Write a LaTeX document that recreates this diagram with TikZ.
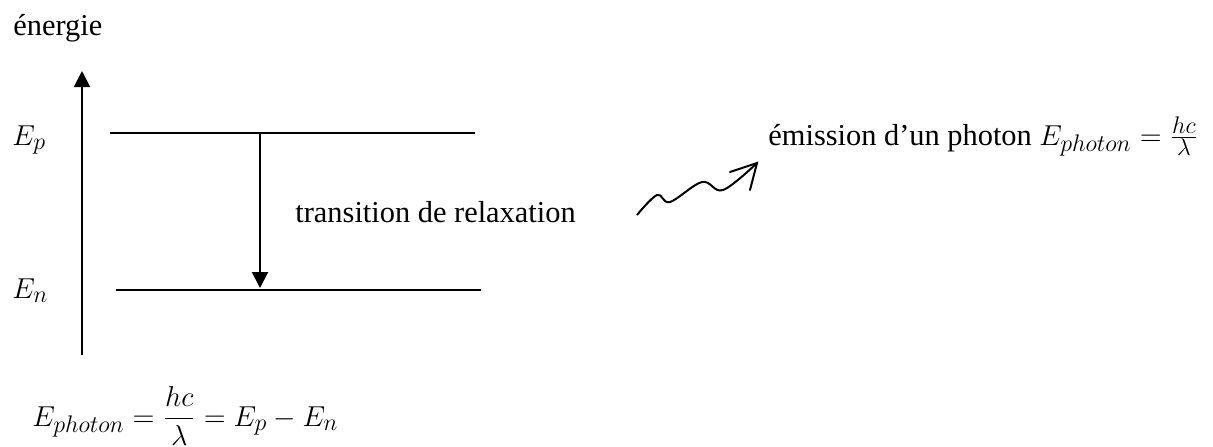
\documentclass[tikz,border=0pt]{standalone}
\usepackage{fontspec}
\setmainfont{Liberation Serif}
\usetikzlibrary{arrows.meta}
% slightly larger sub/superscripts for the formulas
\DeclareMathSizes{15.2}{15.2}{11.8}{9}

\begin{document}
\begin{tikzpicture}[x=0.5pt,y=-0.5pt,
  txt/.style={inner sep=0pt,anchor=base west,font=\fontsize{15.2}{18}\selectfont},
  level/.style={line width=1pt},
  axisarrow/.style={line width=1pt,-{Triangle[width=8pt,length=8pt]}}]
\useasboundingbox (0,0) rectangle (1213,446);

% labels
\node[txt] (energie) at (13,35) {énergie};
\node[txt] (Ep) at (12,145) {$E_p$};
\node[txt] (En) at (12,298) {$E_n$};
\node[txt] (trans) at (295,222) {transition de relaxation};
\node[txt] (emis) at (768,145) {émission d’un photon $E_{photon}=\frac{hc}{\lambda}$};
\node[txt] (formula) at (32,426) {$\displaystyle E_{photon}=\frac{hc}{\lambda}=E_p-E_n$};

% energy axis
\coordinate (axlo) at (82,355);
\coordinate (axhi) at (82,71);
\draw[axisarrow] (axlo) -- (axhi);

% energy levels
\coordinate (pL) at (110,133); \coordinate (pR) at (475,133);
\coordinate (nL) at (116,290); \coordinate (nR) at (481,290);
\draw[level] (pL) -- (pR);
\draw[level] (nL) -- (nR);

% relaxation transition
\coordinate (tTop) at (260,133);
\coordinate (tBot) at (260,288);
\draw[axisarrow] (tTop) -- (tBot);

% emitted photon
\coordinate (wave0) at (637,215);
\coordinate (tip) at (757,163);
\draw[line width=1pt] plot[smooth,tension=0.6] coordinates
  {(wave0) (657,195) (670,202) (702,182) (723,190) (tip)};
\draw[line width=1pt,line cap=round] (730,172) -- (tip) -- (750,190);
\end{tikzpicture}
\end{document}
